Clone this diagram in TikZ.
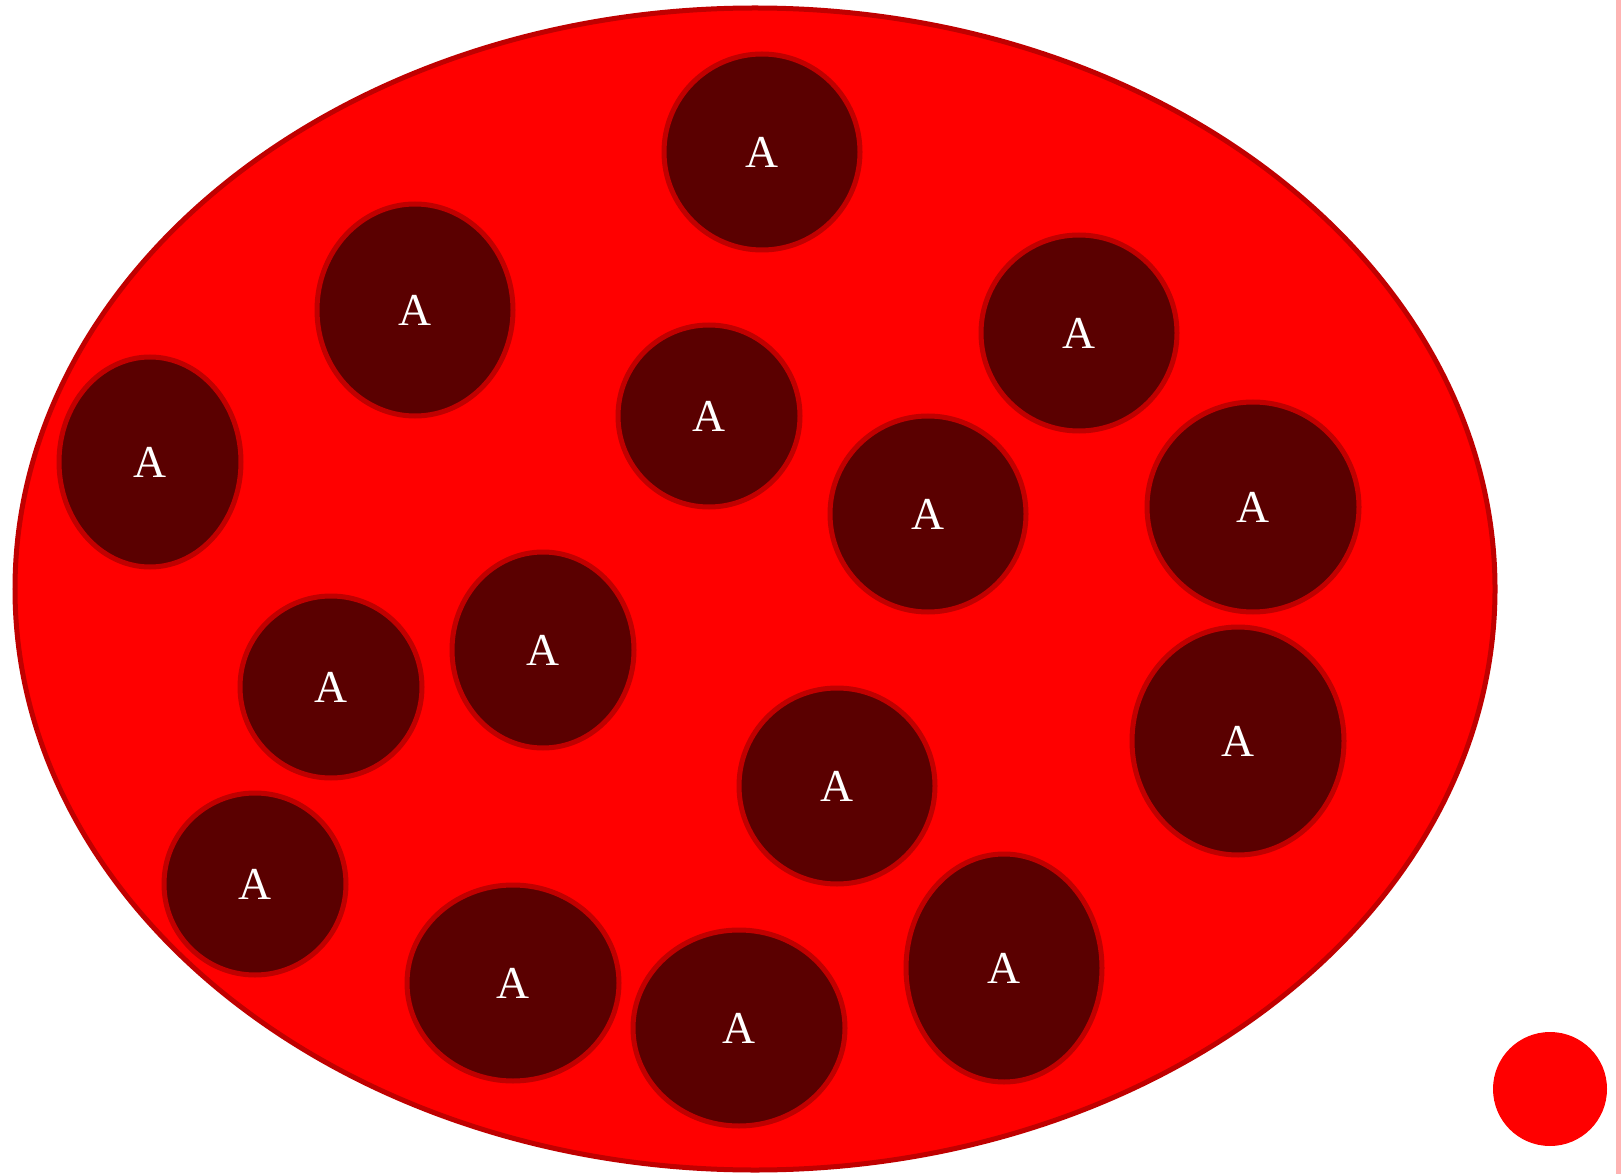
\documentclass[tikz,border=0pt]{standalone}
\usepackage{fontspec}
\setmainfont{Liberation Serif}
\usetikzlibrary{shapes.geometric}
\definecolor{cellred}{HTML}{FF0000}
\definecolor{rimred}{HTML}{C00000}
\definecolor{coredark}{HTML}{5A0000}
\definecolor{barpink}{HTML}{FFB3B3}
\tikzset{
  cellbody/.style={ellipse, draw=rimred, fill=cellred, line width=0.1cm, inner sep=0pt},
  core/.style={ellipse, draw=rimred, fill=coredark, line width=0.1cm, inner sep=0pt,
    text=white, font=\fontsize{26}{30}\selectfont},
}
\begin{document}
\begin{tikzpicture}
\useasboundingbox (0,0) rectangle (32.42,-23.48);
\fill[barpink] (32.32,0) rectangle (32.42,-23.48);
\node[cellbody, minimum width=29.6cm, minimum height=23.24cm] (cell) at (15.10,-11.78) {};
\node[core, minimum width=3.92cm, minimum height=3.92cm] (a1) at (15.24,-3.04) {A};
\node[core, minimum width=3.92cm, minimum height=4.24cm] (a2) at (8.30,-6.20) {A};
\node[core, minimum width=3.64cm, minimum height=4.20cm] (a3) at (3.00,-9.24) {A};
\node[core, minimum width=3.64cm, minimum height=3.64cm] (a4) at (14.18,-8.32) {A};
\node[core, minimum width=3.92cm, minimum height=3.92cm] (a5) at (21.58,-6.66) {A};
\node[core, minimum width=3.92cm, minimum height=3.92cm] (a6) at (18.56,-10.28) {A};
\node[core, minimum width=4.24cm, minimum height=4.20cm] (a7) at (25.06,-10.14) {A};
\node[core, minimum width=3.64cm, minimum height=3.64cm] (a8) at (6.62,-13.74) {A};
\node[core, minimum width=3.64cm, minimum height=3.92cm] (a9) at (10.86,-13.00) {A};
\node[core, minimum width=4.24cm, minimum height=4.56cm] (a10) at (24.76,-14.82) {A};
\node[core, minimum width=3.92cm, minimum height=3.92cm] (a11) at (16.74,-15.72) {A};
\node[core, minimum width=3.64cm, minimum height=3.64cm] (a12) at (5.10,-17.68) {A};
\node[core, minimum width=4.24cm, minimum height=3.92cm] (a13) at (10.26,-19.66) {A};
\node[core, minimum width=4.24cm, minimum height=3.92cm] (a14) at (14.78,-20.56) {A};
\node[core, minimum width=3.92cm, minimum height=4.56cm] (a15) at (20.08,-19.36) {A};
\fill[cellred] (31.00,-21.78) circle (1.14);
\end{tikzpicture}
\end{document}
